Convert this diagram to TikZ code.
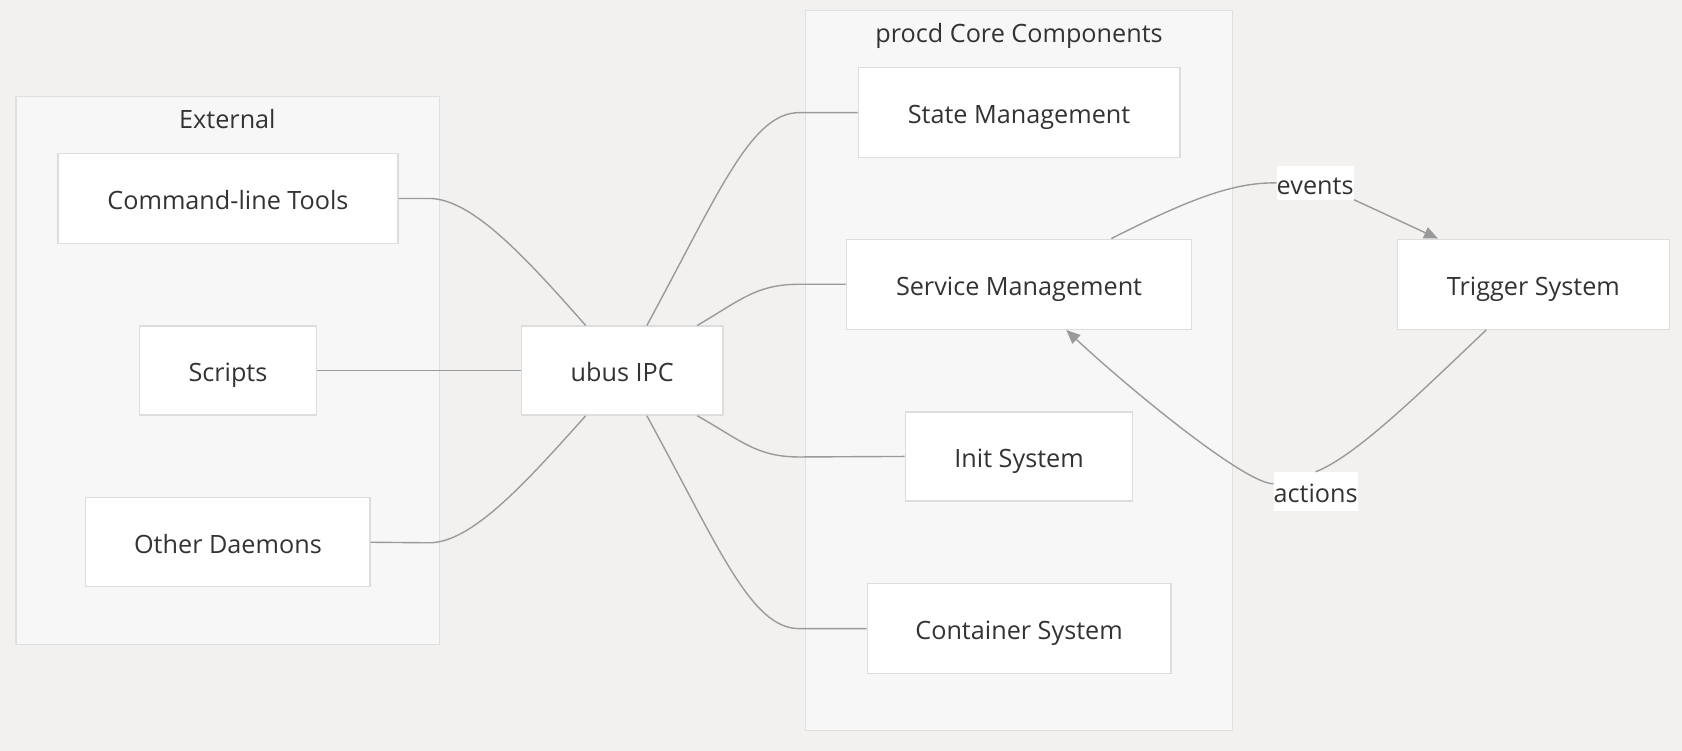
\documentclass[tikz,border=0pt]{standalone}
\usepackage{fontspec}
\setmainfont{Open Sans}
\usetikzlibrary{calc,arrows.meta}
\definecolor{bgc}{HTML}{F2F1EF}
\definecolor{clfill}{HTML}{F7F7F7}
\definecolor{clline}{HTML}{E0E0E0}
\definecolor{ndline}{HTML}{DDDDDD}
\definecolor{edgec}{HTML}{9A9A9A}
\definecolor{txt}{HTML}{333333}
\tikzset{
  tfont/.style={text=txt, font=\fontsize{23.5}{28}\selectfont, text height=21pt, text depth=0pt},
  box/.style={draw=ndline, line width=1.2pt, fill=white, tfont, inner sep=0pt, anchor=center},
  cluster/.style={draw=clline, line width=1.2pt, fill=clfill},
  ctitle/.style={tfont, inner sep=0pt},
  elabel/.style={fill=white, tfont, inner sep=0pt},
  edge/.style={draw=edgec, line width=1.3pt},
  arr/.style={edge, -{Triangle[length=13pt,width=11pt]}}
}
\begin{document}
\begin{tikzpicture}[x=1pt,y=-1pt]
\fill[bgc] (0,0) rectangle (1568,700);
\useasboundingbox (0,0) rectangle (1568,700);
% clusters
\draw[cluster] (15,90) rectangle (410,601);
\node[ctitle] (extt) at (212,109) {External};
\draw[cluster] (751,10) rectangle (1149,681);
\node[ctitle] (coret) at (950,29) {procd Core Components};
% nodes
\node[box, minimum width=317pt, minimum height=84pt] (cmd) at (212.5,185) {Command-line Tools};
\node[box, minimum width=165pt, minimum height=83pt] (scripts) at (212.5,345.5) {Scripts};
\node[box, minimum width=265pt, minimum height=83pt] (daemons) at (212.5,505.5) {Other Daemons};
\node[box, minimum width=188pt, minimum height=83pt] (ubus) at (580,345.5) {ubus IPC};
\node[box, minimum width=300pt, minimum height=84pt] (state) at (950,105) {State Management};
\node[box, minimum width=322pt, minimum height=84pt] (service) at (950,265) {Service Management};
\node[box, minimum width=212pt, minimum height=83pt] (init) at (950,425.5) {Init System};
\node[box, minimum width=283pt, minimum height=84pt] (container) at (950,586) {Container System};
\node[box, minimum width=253pt, minimum height=84pt] (trigger) at (1429.5,265) {Trigger System};
% edge labels
\node[elabel, minimum width=72pt, minimum height=31pt] (events) at (1226,170.5) {events};
\node[elabel, minimum width=77pt, minimum height=36pt] (actions) at (1226.5,458) {actions};
% coordinates
\coordinate (ua) at ($(ubus.north)+(-34,0)$);
\coordinate (ub) at ($(ubus.north)+(23,0)$);
\coordinate (uc) at ($(ubus.north)+(70,0)$);
\coordinate (ud) at ($(ubus.south)+(-34,0)$);
\coordinate (ue) at ($(ubus.south)+(23,0)$);
\coordinate (uf) at ($(ubus.south)+(70,0)$);
% edges to ubus
\draw[edge] (cmd.east) -- (400,185) .. controls (440,185) and (490,240) .. (ua);
\draw[edge] (scripts.east) -- (ubus.west);
\draw[edge] (daemons.east) -- (400,506) .. controls (440,506) and (490,450) .. (ud);
\draw[edge] (ub) .. controls (670,180) and (700,105) .. (745,105) -- (state.west);
\draw[edge] (uc) .. controls (690,280) and (705,265) .. (745,265) -- (service.west);
\draw[edge] (uf) .. controls (690,410) and (705,426) .. (745,426) -- (init.west);
\draw[edge] (ue) .. controls (670,510) and (700,586) .. (745,586) -- (container.west);
% trigger loop
\draw[edge] ($(service.north)+(86,0)$) .. controls (1110,185) and (1150,170) .. (events.west);
\draw[arr] (events.south east) -- ($(trigger.north)+(-89,0)$);
\draw[edge] ($(trigger.south)+(-44,0)$) .. controls (1330,360) and (1265,425) .. (actions.north);
\draw[arr] ($(actions.west)+(0,-7)$) .. controls (1160,451) and (1050,360) .. ($(service.south)+(44,0)$);
\end{tikzpicture}
\end{document}
